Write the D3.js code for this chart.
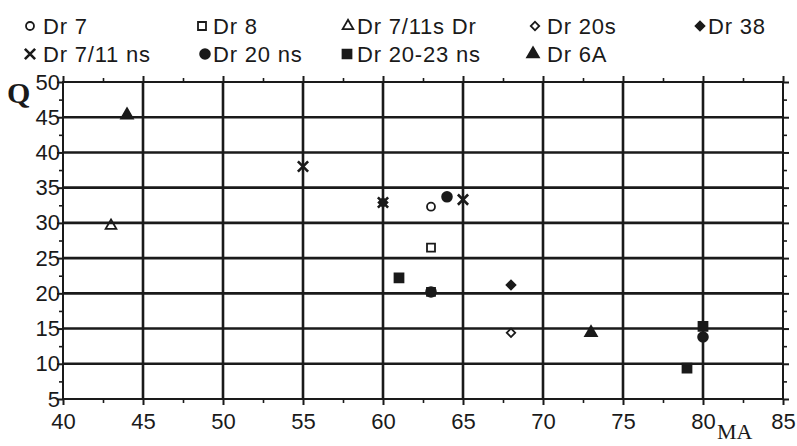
<!DOCTYPE html>
<html><head><meta charset="utf-8">
<script src="https://cdn.jsdelivr.net/npm/d3@7"></script>
<style>
body{margin:0;background:#fff;}
svg text{font-family:"Liberation Sans",Arial,sans-serif;fill:#1a1a1a;}
</style></head>
<body><svg id="c" width="797" height="446"></svg>
<script>
// ---- data ----
const xTicks = [40,45,50,55,60,65,70,75,80,85];
const yTicks = [5,10,15,20,25,30,35,40,45,50];
const seriesNames = ["Dr 7","Dr 8","Dr 7/11s Dr","Dr 20s","Dr 38","Dr 7/11 ns","Dr 20 ns","Dr 20-23 ns","Dr 6A"];
const dr7     = [[63,32.3]];
const dr8     = [[63,26.5],[63,20.2]];
const dr711s  = [[43,29.6]];
const dr20s   = [[68,14.4]];
const dr38    = [[68,21.2],[60,32.9]];
const dr711ns = [[55,38.0],[60,32.9],[65,33.3]];
const dr20ns  = [[64,33.7],[80,13.8],[63,20.2]];
const dr2023ns= [[61,22.2],[79,9.4],[80,15.3]];
const dr6a    = [[44,45.3],[73,14.4]];

// ---- marker styles ----
const styles = {
  "Dr 7":       {sym:d3.symbolCircle,   size:50, fill:"none"},
  "Dr 8":       {sym:d3.symbolSquare,   size:64, fill:"none"},
  "Dr 7/11s Dr":{sym:d3.symbolTriangle, size:50, fill:"none"},
  "Dr 20s":     {sym:d3.symbolSquare,   size:36, fill:"none", rot:45},
  "Dr 38":      {sym:d3.symbolSquare,   size:40, fill:"#1a1a1a", rot:45},
  "Dr 7/11 ns": {sym:d3.symbolTimes,    size:70, fill:"none", cross:true},
  "Dr 20 ns":   {sym:d3.symbolCircle,   size:75, fill:"#1a1a1a"},
  "Dr 20-23 ns":{sym:d3.symbolSquare,   size:80, fill:"#1a1a1a"},
  "Dr 6A":      {sym:d3.symbolTriangle, size:60, fill:"#1a1a1a"}
};
const dataBy = {"Dr 7":dr7,"Dr 8":dr8,"Dr 7/11s Dr":dr711s,"Dr 20s":dr20s,"Dr 38":dr38,
  "Dr 7/11 ns":dr711ns,"Dr 20 ns":dr20ns,"Dr 20-23 ns":dr2023ns,"Dr 6A":dr6a};

const svg = d3.select("#c");
const L=63, R=783, T=82, B=399;
const x = d3.scaleLinear().domain([40,85]).range([L,R]);
const y = d3.scaleLinear().domain([5,50]).range([B,T]);
const ink="#1a1a1a";

// grid lines
const g = svg.append("g");
g.selectAll(".vx").data(xTicks.slice(1,-1)).join("line")
  .attr("x1",d=>x(d)).attr("x2",d=>x(d)).attr("y1",T).attr("y2",B)
  .attr("stroke",ink).attr("stroke-width",2.6);
g.selectAll(".hy").data(yTicks.slice(1,-1)).join("line")
  .attr("y1",d=>y(d)).attr("y2",d=>y(d)).attr("x1",L).attr("x2",R)
  .attr("stroke",ink).attr("stroke-width",2.6);
// frame
g.append("rect").attr("x",L).attr("y",T).attr("width",R-L).attr("height",B-T)
  .attr("fill","none").attr("stroke",ink).attr("stroke-width",2);

// axes with minor ticks
const minorX = d3.range(42.5,85,5);
const minorY = d3.range(7.5,50,5);
function axisPair(axisFn, scale, major, minor, pos, labels){
  const a = svg.append("g").attr("transform",pos);
  a.call(axisFn(scale).tickValues(major).tickSize(6).tickFormat(labels?d3.format("d"):""));
  a.select(".domain").remove();
  a.selectAll("line").attr("stroke",ink).attr("stroke-width",2);
  const m = svg.append("g").attr("transform",pos);
  m.call(axisFn(scale).tickValues(minor).tickSize(4).tickFormat(""));
  m.select(".domain").remove();
  m.selectAll("line").attr("stroke",ink).attr("stroke-width",1.6);
  return a;
}
const ax = axisPair(d3.axisBottom, x, xTicks, minorX, `translate(0,${B})`, true);
ax.selectAll("text").attr("font-size",22).attr("dy","0.95em").attr("fill",ink).attr("font-family","Liberation Sans, Arial, sans-serif");
const ay = axisPair(d3.axisLeft, y, yTicks, minorY, `translate(${L},0)`, true);
ay.selectAll("text").attr("font-size",22).attr("x",-3).attr("fill",ink).attr("font-family","Liberation Sans, Arial, sans-serif");
axisPair(d3.axisTop, x, xTicks, minorX, `translate(0,${T})`, false);
axisPair(d3.axisRight, y, yTicks, minorY, `translate(${R},0)`, false);

// axis titles
svg.append("text").attr("x",7).attr("y",103).text("Q")
  .style("font-family","'Liberation Serif','Times New Roman',serif").attr("font-size",30).attr("font-weight","bold");
svg.append("text").attr("x",717).attr("y",439).text("MA")
  .style("font-family","'Liberation Serif','Times New Roman',serif").attr("font-size",22);

// markers
function drawSym(sel, name){
  const s = styles[name];
  sel.attr("d", d3.symbol(s.sym, s.size)())
    .attr("fill", s.fill)
    .attr("stroke", ink)
    .attr("stroke-width", s.cross?2.6:1.8);
}
function place(pt, name){
  const r = styles[name].rot || 0;
  return `translate(${pt[0]},${pt[1]}) rotate(${r})`;
}
seriesNames.forEach(name=>{
  svg.append("g").selectAll("path").data(dataBy[name]).join("path")
    .attr("transform",d=>place([x(d[0]),y(d[1])],name))
    .call(drawSym, name);
});

// legend
const legendPos = {
  "Dr 7":[30,43,0], "Dr 8":[202,213,0], "Dr 7/11s Dr":[348,357,0], "Dr 20s":[535,547,0], "Dr 38":[700,708,0],
  "Dr 7/11 ns":[30,43,1], "Dr 20 ns":[205,213,1], "Dr 20-23 ns":[347,357,1], "Dr 6A":[533,547,1]
};
const rowY=[26,54];
seriesNames.forEach(name=>{
  const [mx,tx,r]=legendPos[name];
  svg.append("path").attr("transform",place([mx,rowY[r]],name)).call(drawSym,name);
  svg.append("text").attr("x",tx).attr("y",rowY[r]+8).attr("font-size",22)
    .attr("letter-spacing",0.8).text(name);
});
</script></body></html>
